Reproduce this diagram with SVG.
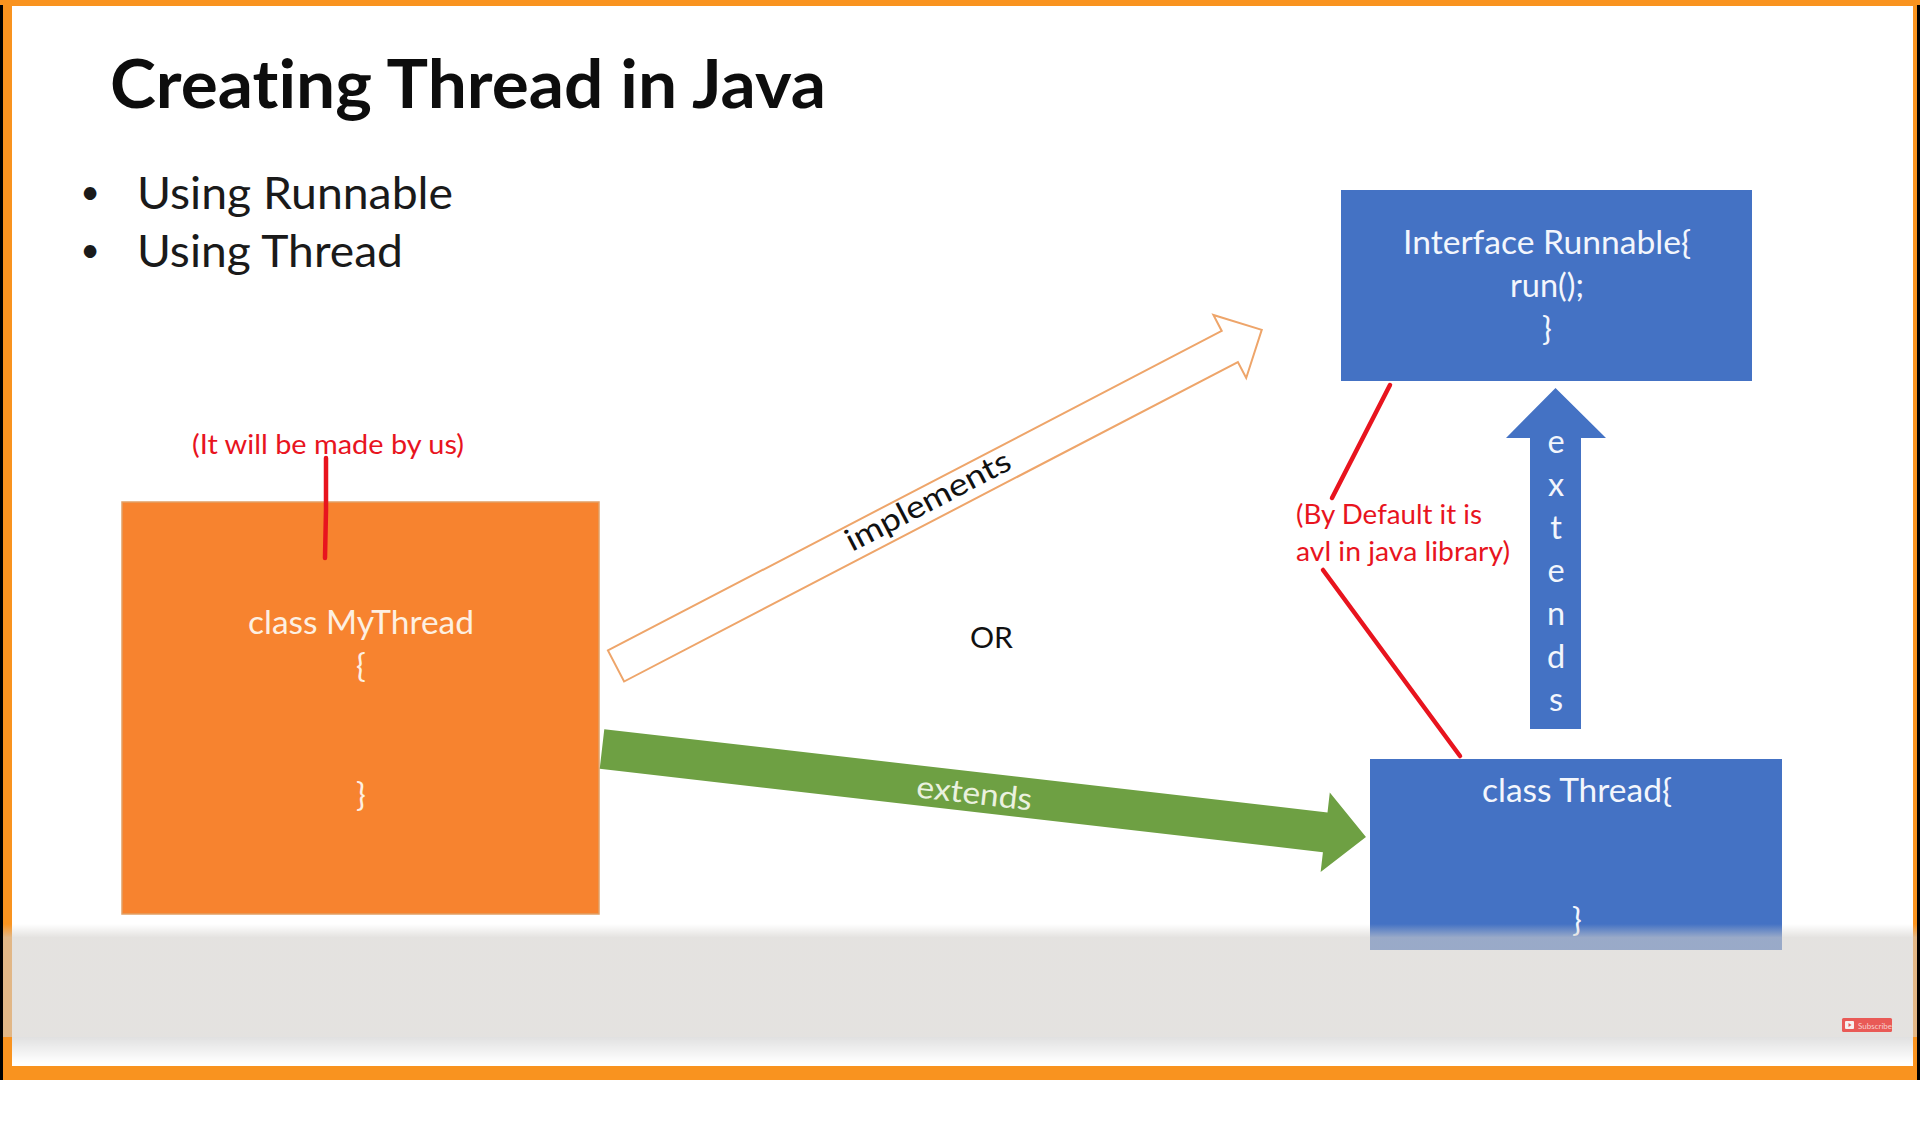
<svg xmlns="http://www.w3.org/2000/svg" width="1920" height="1134" viewBox="0 0 1920 1134">
  <defs>
    <style>
      .sans { font-family: "Lato", "Liberation Sans", sans-serif; font-variant-ligatures: none; }
      .title { font-size: 67px; font-weight: 700; fill: #0d0d0d; }
      .bullet { font-size: 45px; fill: #1a1a1a; }
      .dot { font-size: 34px; }
      .box-text { font-size: 32.5px; text-anchor: middle; }
      .on-orange { fill: #fdf0e2; }
      .on-blue { fill: #f3f6fc; }
      .note { font-size: 27px; fill: #e8141e; }
      .note-line { stroke: #e8141e; stroke-width: 4.5; stroke-linecap: round; fill: none; }
      .blue { fill: #4472c4; }
    </style>
    <linearGradient id="barFade" x1="0" y1="0" x2="0" y2="1">
      <stop offset="0" stop-color="#d2cfcb" stop-opacity="0"/>
      <stop offset="0.06" stop-color="#d2cfcb" stop-opacity="0.3"/>
      <stop offset="0.12" stop-color="#d2cfcb" stop-opacity="0.6"/>
      <stop offset="1" stop-color="#d2cfcb" stop-opacity="0.6"/>
    </linearGradient>
    <linearGradient id="barShadow" x1="0" y1="0" x2="0" y2="1">
      <stop offset="0" stop-color="#000" stop-opacity="0.12"/>
      <stop offset="1" stop-color="#000" stop-opacity="0"/>
    </linearGradient>
  </defs>

  <!-- page and slide frame -->
  <g id="frame">
    <rect x="0" y="0" width="1920" height="1134" fill="#ffffff"/>
    <rect x="0" y="0" width="1920" height="1080" fill="#f9931f"/>
    <rect x="0" y="5" width="3" height="1075" fill="#000"/>
    <rect x="1917" y="5" width="3" height="1075" fill="#000"/>
    <rect x="12" y="6" width="1901" height="1060" fill="#ffffff"/>
  </g>

  <!-- heading and bullet list -->
  <g id="title">
    <text class="sans title" x="110" y="108" textLength="716" lengthAdjust="spacingAndGlyphs">Creating Thread in Java</text>
  </g>
  <g id="bullets" class="sans bullet">
    <text class="dot" x="90" y="204" text-anchor="middle">•</text>
    <text x="137" y="209" textLength="316" lengthAdjust="spacingAndGlyphs">Using Runnable</text>
    <text class="dot" x="90" y="262" text-anchor="middle">•</text>
    <text x="137" y="267" textLength="266" lengthAdjust="spacingAndGlyphs">Using Thread</text>
  </g>

  <!-- class MyThread -->
  <g id="node-mythread">
    <rect x="122" y="502" width="477" height="412" fill="#f7832f" stroke="#e2a066" stroke-width="1.5"/>
    <g class="sans box-text on-orange">
      <text x="361" y="634" textLength="226" lengthAdjust="spacingAndGlyphs">class MyThread</text>
      <text x="361" y="677">{</text>
      <text x="361" y="806">}</text>
    </g>
  </g>

  <!-- Interface Runnable -->
  <g id="node-runnable">
    <rect class="blue" x="1341" y="190" width="411" height="191"/>
    <g class="sans box-text on-blue">
      <text x="1547" y="254" textLength="288" lengthAdjust="spacingAndGlyphs">Interface Runnable{</text>
      <text x="1547" y="297">run();</text>
      <text x="1547" y="340">}</text>
    </g>
  </g>

  <!-- class Thread -->
  <g id="node-thread">
    <rect class="blue" x="1370" y="759" width="412" height="191"/>
    <g class="sans box-text on-blue">
      <text x="1577" y="802" textLength="190" lengthAdjust="spacingAndGlyphs">class Thread{</text>
      <text x="1577" y="931">}</text>
    </g>
  </g>

  <!-- relationships -->
  <g id="connectors">
    <!-- implements: hollow block arrow -->
    <g id="edge-implements" transform="translate(616,666) rotate(-27.5)">
      <polygon points="0,-17.5 692,-17.5 692,-35.5 728,0 692,35.5 692,17.5 0,17.5" fill="#ffffff" stroke="#eea56a" stroke-width="2" stroke-linejoin="miter"/>
      <text class="sans" x="353" y="8" font-size="31" fill="#111" text-anchor="middle" textLength="182" lengthAdjust="spacingAndGlyphs">implements</text>
    </g>
    <!-- extends: solid green block arrow -->
    <g id="edge-extends-thread" transform="translate(602,749) rotate(6.57)">
      <polygon points="0,-20 728,-20 728,-40 769,0 728,40 728,20 0,20" fill="#6ea043"/>
      <text class="sans" x="375" y="12" font-size="31" fill="#eaf1df" text-anchor="middle" textLength="116" lengthAdjust="spacingAndGlyphs">extends</text>
    </g>
    <!-- extends: Thread up to Runnable -->
    <g id="edge-extends-runnable">
      <polygon class="blue" points="1530,729 1530,438 1506,438 1555.5,388 1606,438 1581,438 1581,729"/>
      <g class="sans box-text on-blue">
        <text x="1556" y="453">e</text>
        <text x="1556" y="496">x</text>
        <text x="1556" y="539">t</text>
        <text x="1556" y="582">e</text>
        <text x="1556" y="625">n</text>
        <text x="1556" y="668">d</text>
        <text x="1556" y="711">s</text>
      </g>
    </g>
    <text id="label-or" class="sans" x="970" y="648" font-size="29" fill="#111" textLength="43" lengthAdjust="spacingAndGlyphs">OR</text>
  </g>

  <!-- handwritten notes -->
  <g id="annotations">
    <text class="sans note" x="192" y="454" textLength="272" lengthAdjust="spacingAndGlyphs">(It will be made by us)</text>
    <path class="note-line" d="M326,458 L326,510 L325,558"/>
    <text class="sans note" x="1296" y="524" textLength="186" lengthAdjust="spacingAndGlyphs">(By Default it is</text>
    <text class="sans note" x="1296" y="561" textLength="214" lengthAdjust="spacingAndGlyphs">avl in java library)</text>
    <line class="note-line" x1="1390" y1="385" x2="1332" y2="498"/>
    <line class="note-line" x1="1323" y1="570" x2="1460" y2="756"/>
  </g>

  <!-- video player bar over the slide bottom -->
  <g id="player-bar">
    <rect x="3" y="924" width="1914" height="113" fill="url(#barFade)"/>
    <rect x="12" y="1037" width="1901" height="26" fill="url(#barShadow)"/>
    <rect x="1842" y="1018" width="50" height="14" rx="1.5" fill="#e95a56"/>
    <rect x="1845" y="1021" width="9" height="8" rx="1" fill="#f6f0ef"/>
    <polygon points="1848.5,1023 1848.5,1027 1851.5,1025" fill="#e95a56"/>
    <text class="sans" x="1858" y="1028.5" font-size="8" fill="#f7cfcd">Subscribe</text>
  </g>
</svg>
